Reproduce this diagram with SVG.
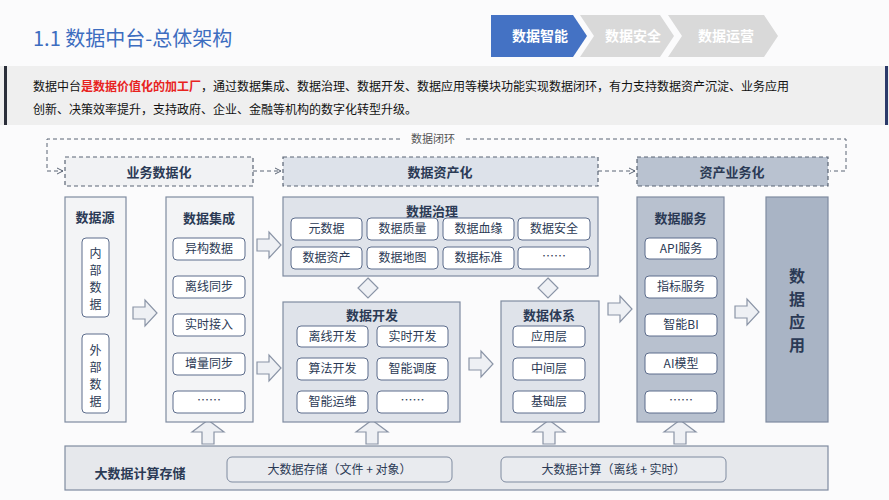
<svg xmlns="http://www.w3.org/2000/svg" xmlns:xlink="http://www.w3.org/1999/xlink" width="889" height="500" viewBox="0 0 889 500">
<style>
text{font-family:"Noto Sans CJK SC","Noto Sans",sans-serif;fill:#2b3a55;text-anchor:middle}
.col{stroke:#7f8ba0;stroke-width:1.2}
.in{fill:#fff;stroke:#5d6d8c;stroke-width:1}
.t{font-size:12px}
.h{font-size:13px;font-weight:bold}
.ph{stroke:#5a6474;stroke-width:1.2;stroke-dasharray:4 3}
.dl{fill:none;stroke:#5a6474;stroke-width:1;stroke-dasharray:4 3}
.ba{fill:#eef0f4;stroke:#8a94a6;stroke-width:1.2}
.v{font-size:16px;font-weight:bold}
</style>
<defs>
<path id="ra" d="M0,-6H12V-13L24,0L12,13V6H0Z"/>
<path id="ua" d="M-6,20V8H-16L0,-4L16,8H6V20Z"/>
<marker id="m" markerWidth="8" markerHeight="8" refX="7" refY="4" orient="auto" markerUnits="userSpaceOnUse"><path d="M1,1L7,4L1,7" fill="none" stroke="#5a6474" stroke-width="1"/></marker>
</defs>
<rect width="889" height="500" fill="#fbfbfc"/>
<g id="header">
<text x="33" y="46" style="font-size:20px;fill:#3d6dc0;text-anchor:start">1.1 数据中台-总体架构</text>
<path d="M491,15H573L587,36L573,57H491Z" fill="#4472c4"/>
<path d="M580,15H660L674,36L660,57H580L594,36Z" fill="#d9d9d9"/>
<path d="M668,15H764L778,36L764,57H668L682,36Z" fill="#d9d9d9"/>
<text x="540" y="41" style="font-size:14px;font-weight:bold;fill:#fff">数据智能</text>
<text x="633" y="41" style="font-size:14px;font-weight:bold;fill:#fff">数据安全</text>
<text x="726" y="41" style="font-size:14px;font-weight:bold;fill:#fff">数据运营</text>
</g>
<g id="desc">
<rect x="0" y="66" width="889" height="59" fill="#efefef"/>
<rect x="4" y="66" width="3" height="59" fill="#2b2f3a"/>
<rect x="885" y="66" width="3" height="59" fill="#2b3a6a"/>
<text x="33" y="91" style="font-size:12px;fill:#111;text-anchor:start">数据中台<tspan style="fill:#e8231e;font-weight:bold">是数据价值化的加工厂</tspan>，通过数据集成、数据治理、数据开发、数据应用等模块功能实现数据闭环，有力支持数据资产沉淀、业务应用</text>
<text x="33" y="114" style="font-size:12px;fill:#111;text-anchor:start">创新、决策效率提升，支持政府、企业、金融等机构的数字化转型升级。</text>
</g>
<g id="connectors">
<path class="dl" d="M400,139H47V171H63" marker-end="url(#m)"/>
<path class="dl" d="M466,139H846V171H830"/>
<path class="dl" d="M253,171H281" marker-end="url(#m)"/>
<path class="dl" d="M598,171H635" marker-end="url(#m)"/>
<text x="433" y="143" style="font-size:11px;fill:#555">数据闭环</text>
<use href="#ra" x="133" y="313" class="ba"/>
<use href="#ra" x="257" y="245" class="ba"/>
<use href="#ra" x="257" y="368" class="ba"/>
<use href="#ra" x="469" y="364" class="ba"/>
<use href="#ra" x="608" y="309" class="ba"/>
<use href="#ra" x="735" y="312" class="ba"/>
<use href="#ua" x="208" y="424" class="ba"/>
<use href="#ua" x="372" y="424" class="ba"/>
<use href="#ua" x="549" y="424" class="ba"/>
<use href="#ua" x="680" y="424" class="ba"/>
<path d="M368,278L378,288L368,298L358,288Z" class="ba"/>
<path d="M548,278L558,288L548,298L538,288Z" class="ba"/>
</g>
<g id="phase1"><rect x="65" y="157" width="188" height="29" fill="#f1f2f4" class="ph"/><text x="159" y="177" class="h">业务数据化</text></g>
<g id="phase2"><rect x="283" y="157" width="315" height="29" fill="#dde2ea" class="ph"/><text x="440" y="177" class="h">数据资产化</text></g>
<g id="phase3"><rect x="637" y="157" width="191" height="29" fill="#b9c2d0" class="ph"/><text x="732" y="177" class="h">资产业务化</text></g>
<g id="source">
<rect x="65" y="197" width="61" height="225" fill="#f3f4f6" class="col"/>
<text x="95" y="222" class="h">数据源</text>
<rect x="82" y="238" width="27" height="79" rx="4" class="in"/>
<text x="95.5" y="258" class="t">内</text><text x="95.5" y="275" class="t">部</text><text x="95.5" y="292" class="t">数</text><text x="95.5" y="309" class="t">据</text>
<rect x="82" y="334" width="27" height="79" rx="4" class="in"/>
<text x="95.5" y="355" class="t">外</text><text x="95.5" y="372" class="t">部</text><text x="95.5" y="389" class="t">数</text><text x="95.5" y="406" class="t">据</text>
</g>
<g id="integration">
<rect x="166" y="197" width="87" height="225" fill="#f3f4f6" class="col"/>
<text x="209" y="223" class="h">数据集成</text>
<rect x="173" y="238" width="72" height="22" rx="4" class="in"/><text x="209" y="253" class="t">异构数据</text>
<rect x="173" y="276" width="72" height="22" rx="4" class="in"/><text x="209" y="291" class="t">离线同步</text>
<rect x="173" y="314" width="72" height="22" rx="4" class="in"/><text x="209" y="329" class="t">实时接入</text>
<rect x="173" y="353" width="72" height="22" rx="4" class="in"/><text x="209" y="368" class="t">增量同步</text>
<rect x="173" y="391" width="72" height="22" rx="4" class="in"/><text x="209" y="405" class="t">……</text>
</g>
<g id="governance">
<rect x="283" y="197" width="315" height="79" fill="#dfe3ea" class="col"/>
<text x="432" y="216" class="h">数据治理</text>
<rect x="291" y="218" width="71" height="22" rx="4" class="in"/><text x="326.5" y="233" class="t">元数据</text>
<rect x="367" y="218" width="71" height="22" rx="4" class="in"/><text x="402.5" y="233" class="t">数据质量</text>
<rect x="443" y="218" width="71" height="22" rx="4" class="in"/><text x="478.5" y="233" class="t">数据血缘</text>
<rect x="518" y="218" width="72" height="22" rx="4" class="in"/><text x="554" y="233" class="t">数据安全</text>
<rect x="291" y="247" width="71" height="22" rx="4" class="in"/><text x="326.5" y="262" class="t">数据资产</text>
<rect x="367" y="247" width="71" height="22" rx="4" class="in"/><text x="402.5" y="262" class="t">数据地图</text>
<rect x="443" y="247" width="71" height="22" rx="4" class="in"/><text x="478.5" y="262" class="t">数据标准</text>
<rect x="518" y="247" width="72" height="22" rx="4" class="in"/><text x="554" y="261" class="t">……</text>
</g>
<g id="development">
<rect x="283" y="302" width="177" height="120" fill="#dfe3ea" class="col"/>
<text x="372" y="320" class="h">数据开发</text>
<rect x="297" y="326" width="71" height="21" rx="4" class="in"/><text x="332.5" y="341" class="t">离线开发</text>
<rect x="377" y="326" width="71" height="21" rx="4" class="in"/><text x="412.5" y="341" class="t">实时开发</text>
<rect x="297" y="358" width="71" height="22" rx="4" class="in"/><text x="332.5" y="373" class="t">算法开发</text>
<rect x="377" y="358" width="71" height="22" rx="4" class="in"/><text x="412.5" y="373" class="t">智能调度</text>
<rect x="297" y="391" width="71" height="22" rx="4" class="in"/><text x="332.5" y="406" class="t">智能运维</text>
<rect x="377" y="391" width="71" height="22" rx="4" class="in"/><text x="412.5" y="405" class="t">……</text>
</g>
<g id="system">
<rect x="501" y="301" width="98" height="121" fill="#dfe3ea" class="col"/>
<text x="549" y="320" class="h">数据体系</text>
<rect x="513" y="326" width="72" height="21" rx="4" class="in"/><text x="549" y="341" class="t">应用层</text>
<rect x="513" y="358" width="72" height="22" rx="4" class="in"/><text x="549" y="373" class="t">中间层</text>
<rect x="513" y="391" width="72" height="22" rx="4" class="in"/><text x="549" y="406" class="t">基础层</text>
</g>
<g id="service">
<rect x="637" y="197" width="87" height="225" fill="#b8c1cf" class="col"/>
<text x="680.5" y="223" class="h">数据服务</text>
<rect x="645" y="238" width="72" height="21" rx="4" class="in"/><text x="681" y="253" class="t">API服务</text>
<rect x="645" y="276" width="72" height="22" rx="4" class="in"/><text x="681" y="291" class="t">指标服务</text>
<rect x="645" y="314" width="72" height="22" rx="4" class="in"/><text x="681" y="329" class="t">智能BI</text>
<rect x="645" y="353" width="72" height="21" rx="4" class="in"/><text x="681" y="368" class="t">AI模型</text>
<rect x="645" y="391" width="72" height="22" rx="4" class="in"/><text x="681" y="405" class="t">……</text>
</g>
<g id="application">
<rect x="766" y="197" width="62" height="225" fill="#a9b4c5" class="col"/>
<text x="797" y="282" class="v">数</text>
<text x="797" y="305" class="v">据</text>
<text x="797" y="328" class="v">应</text>
<text x="797" y="351" class="v">用</text>
</g>
<g id="storage">
<rect x="65" y="446" width="763" height="44" fill="#e6e8ec" class="col"/>
<text x="140" y="478" class="h">大数据计算存储</text>
<rect x="227" y="457" width="225" height="25" rx="5" fill="#e9ebef" stroke="#7f8ba0"/>
<text x="339.5" y="474" class="t">大数据存储（文件 + 对象）</text>
<rect x="501" y="457" width="225" height="25" rx="5" fill="#e9ebef" stroke="#7f8ba0"/>
<text x="613.5" y="474" class="t">大数据计算（离线 + 实时）</text>
</g>
</svg>
